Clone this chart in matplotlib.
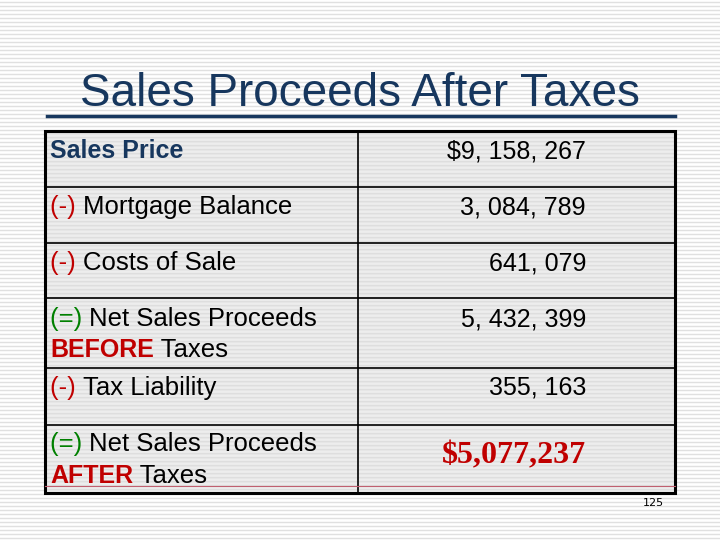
import matplotlib
matplotlib.use("Agg")
import matplotlib.pyplot as plt
from matplotlib.patches import Rectangle

title = "Sales Proceeds After Taxes"
labels = [
    [("Sales Price", "#17375e", "bold")],
    [("(-) ", "#c00000", "normal"), ("Mortgage Balance", "black", "normal")],
    [("(-) ", "#c00000", "normal"), ("Costs of Sale", "black", "normal")],
    [("(=) ", "#008000", "normal"), ("Net Sales Proceeds", "black", "normal")],
    [("BEFORE", "#c00000", "bold"), (" Taxes", "black", "normal")],
    [("(-) ", "#c00000", "normal"), ("Tax Liability", "black", "normal")],
    [("(=) ", "#008000", "normal"), ("Net Sales Proceeds", "black", "normal")],
    [("AFTER", "#c00000", "bold"), (" Taxes", "black", "normal")],
]
label_y = [151, 207, 263, 319, 350, 388, 444, 476]
values = ["$9, 158, 267", "3, 084, 789", "641, 079", "5, 432, 399", "355, 163"]
value_y = [152, 208, 263, 319, 388]
final_value = "$5,077,237"
page = "125"

fig = plt.figure(figsize=(7.2, 5.4), dpi=100)
ax = fig.add_axes([0, 0, 1, 1])
ax.set_xlim(0, 720); ax.set_ylim(540, 0); ax.axis("off")
fig.patch.set_facecolor("white")
for y in range(2, 540, 4):
    ax.axhline(y, color="#e0e0e0", lw=1.0, zorder=0)

ax.text(360, 94, title, ha="center", va="center", fontsize=33, color="#17375e",
        family="Liberation Sans")
ax.plot([47, 675], [116, 116], color="#17375e", lw=2.5)

ax.add_patch(Rectangle((45, 131), 630, 362, facecolor="#ebebeb", alpha=0.8, zorder=1))
for y in range(133, 493, 4):
    ax.plot([46, 674], [y, y], color="#dedede", lw=1.0, zorder=1.5)
ax.add_patch(Rectangle((45, 131), 630, 362, fill=False, edgecolor="black", lw=2.2, zorder=3))
for y in [187, 243, 298, 368, 425]:
    ax.plot([45, 675], [y, y], color="black", lw=1.2, zorder=3)
ax.plot([358, 358], [131, 493], color="black", lw=1.2, zorder=3)
ax.plot([45, 675], [486, 486], color="#c06070", lw=0.8, zorder=3)

r = fig.canvas.get_renderer()
for parts, y in zip(labels, label_y):
    x = 50
    for txt, col, w in parts:
        fs = 18 if w == "bold" else 18.5
        t = ax.text(x, y, txt, ha="left", va="center", fontsize=fs, color=col,
                    fontweight=w, family="Liberation Sans", zorder=4)
        bb = t.get_window_extent(renderer=r)
        x += bb.width
for v, y in zip(values, value_y):
    ax.text(586, y, v, ha="right", va="center", fontsize=18, color="black",
            family="Liberation Sans", zorder=4)
ax.text(586, 456, final_value, ha="right", va="center", fontsize=23, color="#c00000",
        fontweight="bold", family="Liberation Serif", zorder=4)
ax.text(664, 503, page, ha="right", va="center", fontsize=8, color="black",
        family="DejaVu Sans", zorder=4)
fig.savefig("out.png", dpi=100)
